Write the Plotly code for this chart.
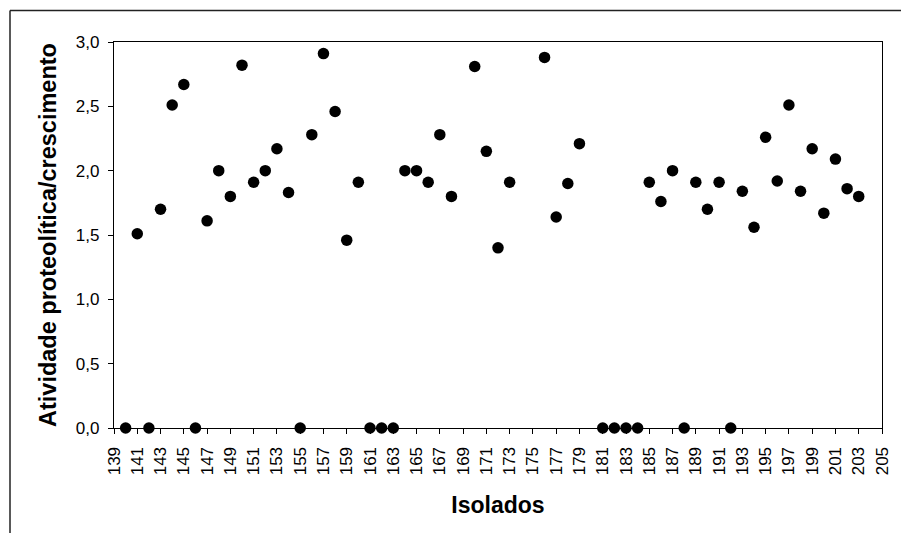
import plotly.graph_objects as go

isolados = [140, 141, 142, 143, 144, 145, 146, 147, 148, 149, 150, 151, 152, 153,
            154, 155, 156, 157, 158, 159, 160, 161, 162, 163, 164, 165, 166, 167,
            168, 170, 171, 172, 173, 176, 177, 178, 179, 181, 182, 183, 184, 185,
            186, 187, 188, 189, 190, 191, 192, 193, 194, 195, 196, 197, 198, 199,
            200, 201, 202, 203]
atividade = [0.0, 1.51, 0.0, 1.70, 2.51, 2.67, 0.0, 1.61, 2.00, 1.80, 2.82, 1.91, 2.00, 2.17,
             1.83, 0.0, 2.28, 2.91, 2.46, 1.46, 1.91, 0.0, 0.0, 0.0, 2.00, 2.00, 1.91, 2.28,
             1.80, 2.81, 2.15, 1.40, 1.91, 2.88, 1.64, 1.90, 2.21, 0.0, 0.0, 0.0, 0.0, 1.91,
             1.76, 2.00, 0.0, 1.91, 1.70, 1.91, 0.0, 1.84, 1.56, 2.26, 1.92, 2.51, 1.84, 2.17,
             1.67, 2.09, 1.86, 1.80]

x_title = "Isolados"
y_title = "Atividade proteolítica/crescimento"

FONT = "Liberation Sans, Arial, sans-serif"

fig = go.Figure()
fig.add_trace(go.Scatter(
    x=isolados, y=atividade, mode="markers",
    marker=dict(color="black", size=11.5, line=dict(width=0)),
    cliponaxis=False, showlegend=False,
))

L, R, T, B = 114, 19, 42, 105
W, H = 901, 533
pw = W - L - R
ph = H - T - B

fig.update_layout(
    width=W, height=H,
    margin=dict(l=L, r=R, t=T, b=B, pad=0, autoexpand=False),
    paper_bgcolor="white", plot_bgcolor="white",
    separators=",.",
    font=dict(family=FONT, color="black", size=17),
    xaxis=dict(
        range=[139, 205], tick0=139, dtick=2, tickangle=-90,
        showgrid=False, zeroline=False, automargin=False,
        showline=True, linecolor="black", linewidth=1.3, mirror=True,
        ticks="outside", ticklen=5, tickwidth=1, tickcolor="black",
        tickfont=dict(size=17, family=FONT),
        ticklabelstandoff=6,
        title=dict(text=x_title, font=dict(size=23, family=FONT, weight="bold"), standoff=22),
    ),
    yaxis=dict(
        range=[0, 3], tick0=0, dtick=0.5, tickformat=".1f",
        showgrid=False, zeroline=False, automargin=False,
        showline=True, linecolor="black", linewidth=1.3, mirror=True,
        ticks="outside", ticklen=5, tickwidth=1, tickcolor="black",
        tickfont=dict(size=17, family=FONT),
        ticklabelstandoff=5,
        title=dict(text=y_title, font=dict(size=23.5, family=FONT, weight="bold"), standoff=12),
    ),
)

# outer chart-area border (top and left edges visible in the crop)
x_left = (10 - L) / pw
y_top = (H - B - 10.5) / ph
fig.add_shape(type="line", xref="paper", yref="paper",
              x0=x_left, x1=1.5, y0=y_top, y1=y_top,
              line=dict(color="#222", width=1.5))
fig.add_shape(type="line", xref="paper", yref="paper",
              x0=x_left, x1=x_left, y0=y_top, y1=-1,
              line=dict(color="#222", width=1.5))

fig.write_html("out.html")
